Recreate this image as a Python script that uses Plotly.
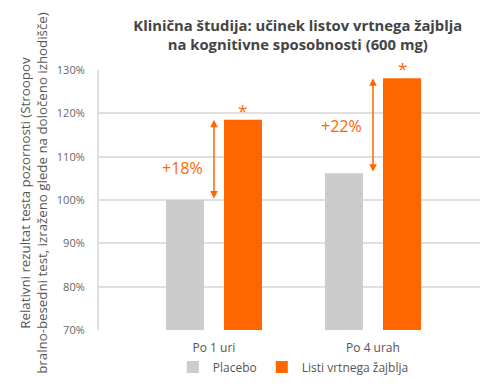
import plotly.graph_objects as go

categories = ["Po 1 uri", "Po 4 urah"]
placebo = [100.0, 106.2]
sage = [118.5, 128.1]
diff_labels = ["+18%", "+22%"]
label_y = [107.4, 117.0]
series_names = ["Placebo", "Listi vrtnega žajblja"]
y_ticks = [70, 80, 90, 100, 110, 120, 130]
y_ticklabels = [f"{v}%" for v in y_ticks]

ORANGE = "#ff6600"
GREY = "#cccccc"
FONT = "Open Sans"
BARGAP = 0.27

fig = go.Figure()
fig.add_trace(go.Bar(x=categories, y=placebo, name=series_names[0],
                     marker=dict(color=GREY, line=dict(width=0))))
fig.add_trace(go.Bar(x=categories, y=sage, name=series_names[1],
                     marker=dict(color=ORANGE, line=dict(width=0))))

annotations = []
slot = (1 - BARGAP) / 2
for i in range(len(categories)):
    annotations.append(dict(
        x=i, y=sage[i], ax=i, ay=placebo[i], xref="x", yref="y", axref="x", ayref="y",
        showarrow=True, arrowhead=2, startarrowhead=2, arrowside="end+start",
        arrowsize=1, startarrowsize=1, arrowwidth=1.5, arrowcolor=ORANGE,
        standoff=0, startstandoff=0, text=""))
    annotations.append(dict(
        x=i, y=label_y[i], xref="x", yref="y", text=diff_labels[i], showarrow=False,
        xanchor="right", yanchor="middle", xshift=-9,
        font=dict(family=FONT, size=16, color=ORANGE)))
    annotations.append(dict(
        x=i + slot / 2, y=sage[i], xref="x", yref="y", text="*", showarrow=False,
        xanchor="center", yanchor="bottom", yshift=-4,
        font=dict(family=FONT, size=17, color=ORANGE)))

annotations.append(dict(
    x=-0.171, y=0.527, xref="paper", yref="paper", textangle=-90, showarrow=False,
    xanchor="center", yanchor="middle",
    text="Relativni rezultat testa pozornosti (Stroopov<br>bralno-besedni test, izraženo glede na določeno izhodišče)",
    font=dict(family=FONT, size=13.3, color="#555555")))

# the page body adds an 8px offset, so the figure is sized/margined to compensate
fig.update_layout(
    width=492, height=382,
    margin=dict(l=91, r=20, t=62, b=60, autoexpand=False),
    paper_bgcolor="white", plot_bgcolor="white",
    font=dict(family=FONT, size=12, color="#555555"),
    title=dict(text="<b>Klinična študija: učinek listov vrtnega žajblja<br>na kognitivne sposobnosti (600 mg)</b>",
               x=0.589, xanchor="center", yref="container", y=0.941, yanchor="top",
               font=dict(family=FONT, size=14.8, color="#444444")),
    barmode="group", bargap=BARGAP, bargroupgap=0.345,
    showlegend=True,
    legend=dict(orientation="h", x=0.51, xanchor="center",
                yref="container", y=0.06, yanchor="middle",
                font=dict(family=FONT, size=12, color="#555555"),
                itemwidth=30, traceorder="normal"),
    annotations=annotations,
)
fig.update_xaxes(range=[-0.723, 1.673], showgrid=False, showline=False, zeroline=False,
                 ticks="", ticklabelstandoff=9,
                 tickfont=dict(family=FONT, size=12, color="#555555"))
fig.update_yaxes(range=[70, 130], tickvals=y_ticks, ticktext=y_ticklabels,
                 showgrid=True, gridcolor="#e0e0e0", gridwidth=2,
                 showline=True, linecolor="#e0e0e0", linewidth=2,
                 zeroline=False, ticks="", ticklabelstandoff=10,
                 tickfont=dict(family=FONT, size=11, color="#666666"))

fig.write_html("out.html")
